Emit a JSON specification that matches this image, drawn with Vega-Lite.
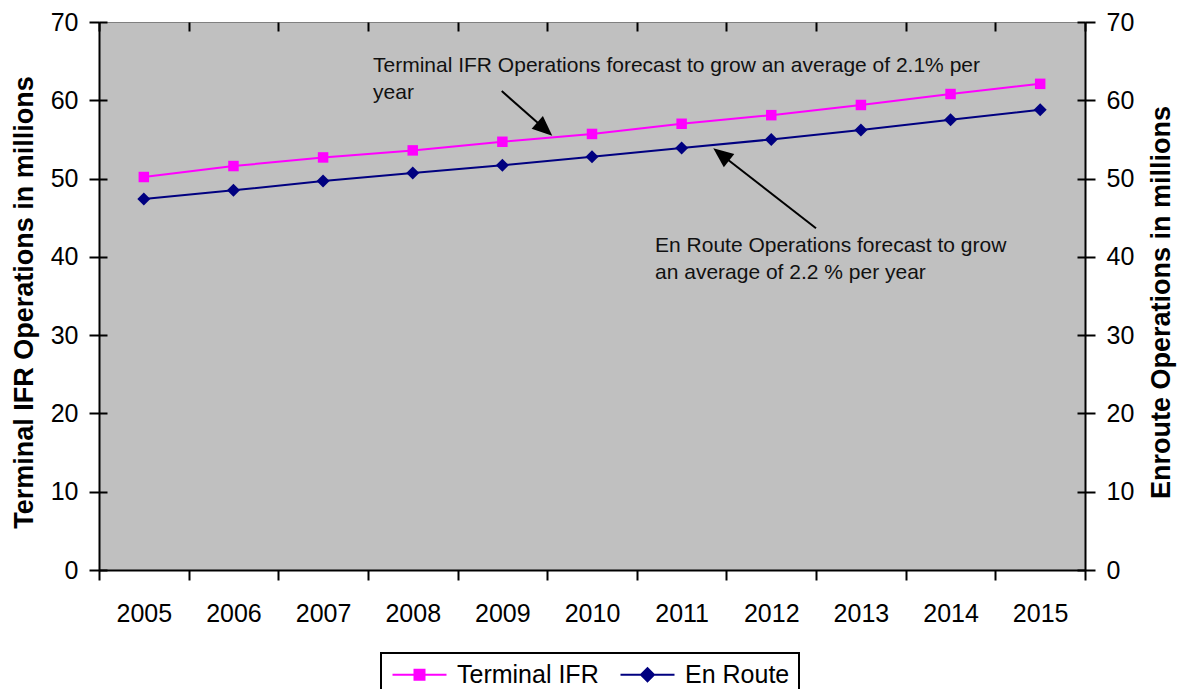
{
  "$schema": "https://vega.github.io/schema/vega-lite/v6.json",
  "width": 986,
  "height": 548,
  "autosize": {"type": "none"},
  "padding": {"left": 99, "top": 22, "right": 92, "bottom": 119},
  "background": "white",
  "view": {"fill": "#C0C0C0", "stroke": "#808080", "strokeWidth": 1},
  "config": {
    "font": "Liberation Sans",
    "view": {"fill": "#C0C0C0", "stroke": "#808080", "strokeWidth": 1},
    "axis": {
      "labelFont": "Liberation Sans",
      "labelFontSize": 25,
      "labelColor": "black",
      "titleFont": "Liberation Sans",
      "titleFontSize": 27,
      "titleFontWeight": "bold",
      "titleColor": "black",
      "domainColor": "black",
      "domainWidth": 2,
      "tickColor": "black",
      "tickWidth": 2,
      "gridColor": "black",
      "gridWidth": 2,
      "gridOpacity": 1,
      "labelFlush": false,
      "labelOverlap": false,
      "labelBound": false
    }
  },
  "datasets": {
    "ops": [
      {"year": 2005, "series": "Terminal IFR", "value": 50.2},
      {"year": 2006, "series": "Terminal IFR", "value": 51.6},
      {"year": 2007, "series": "Terminal IFR", "value": 52.7},
      {"year": 2008, "series": "Terminal IFR", "value": 53.6},
      {"year": 2009, "series": "Terminal IFR", "value": 54.7},
      {"year": 2010, "series": "Terminal IFR", "value": 55.7},
      {"year": 2011, "series": "Terminal IFR", "value": 57.0},
      {"year": 2012, "series": "Terminal IFR", "value": 58.1},
      {"year": 2013, "series": "Terminal IFR", "value": 59.4},
      {"year": 2014, "series": "Terminal IFR", "value": 60.8},
      {"year": 2015, "series": "Terminal IFR", "value": 62.1},
      {"year": 2005, "series": "En Route", "value": 47.4},
      {"year": 2006, "series": "En Route", "value": 48.5},
      {"year": 2007, "series": "En Route", "value": 49.7},
      {"year": 2008, "series": "En Route", "value": 50.7},
      {"year": 2009, "series": "En Route", "value": 51.7},
      {"year": 2010, "series": "En Route", "value": 52.8},
      {"year": 2011, "series": "En Route", "value": 53.9},
      {"year": 2012, "series": "En Route", "value": 55.0},
      {"year": 2013, "series": "En Route", "value": 56.2},
      {"year": 2014, "series": "En Route", "value": 57.5},
      {"year": 2015, "series": "En Route", "value": 58.8}
    ],
    "notes": [
      {"x": 2007.557, "y": 63.57, "text": ["Terminal IFR Operations forecast to grow an average of 2.1% per", "year"]},
      {"x": 2010.703, "y": 40.66, "text": ["En Route Operations forecast to grow", "an average of 2.2 % per year"]}
    ],
    "arrows": [
      {"id": "t", "x": 2008.993, "y": 61.18, "x2": 2009.473, "y2": 56.32},
      {"id": "e", "x": 2012.499, "y": 43.65, "x2": 2011.441, "y2": 53.08}
    ]
  },
  "resolve": {"axis": {"x": "independent", "y": "independent"}},
  "layer": [
    {
      "data": {"name": "ops"},
      "transform": [{"filter": "datum.series === 'Terminal IFR'"}],
      "mark": {"type": "line", "color": "#FF00FF", "strokeWidth": 2},
      "encoding": {
        "x": {
          "field": "year", "type": "quantitative",
          "scale": {"domain": [2004.5, 2015.5], "nice": false, "zero": false},
          "axis": {
            "orient": "bottom",
            "values": [2005, 2006, 2007, 2008, 2009, 2010, 2011, 2012, 2013, 2014, 2015],
            "format": "d",
            "ticks": false,
            "tickSize": 0,
            "labelPadding": 31,
            "domain": true,
            "grid": false,
            "title": null
          }
        },
        "y": {
          "field": "value", "type": "quantitative",
          "scale": {"domain": [0, 70], "nice": false, "zero": true},
          "axis": {
            "orient": "left",
            "values": [0, 10, 20, 30, 40, 50, 60, 70],
            "tickSize": 10,
            "labelPadding": 11,
            "grid": true,
            "gridDash": [8, 2000],
            "title": "Terminal IFR Operations in millions",
            "titlePadding": 12,
            "titleY": 280
          }
        }
      }
    },
    {
      "data": {"name": "ops"},
      "transform": [{"filter": "datum.series === 'Terminal IFR'"}],
      "mark": {"type": "point", "shape": "square", "filled": true, "color": "#FF00FF", "size": 110, "opacity": 1},
      "encoding": {
        "x": {"field": "year", "type": "quantitative", "axis": null},
        "y": {"field": "value", "type": "quantitative", "axis": null}
      }
    },
    {
      "data": {"name": "ops"},
      "transform": [{"filter": "datum.series === 'En Route'"}],
      "mark": {"type": "line", "color": "#000080", "strokeWidth": 2},
      "encoding": {
        "x": {
          "field": "year", "type": "quantitative",
          "axis": {
            "orient": "bottom",
            "values": [2004.5, 2005.5, 2006.5, 2007.5, 2008.5, 2009.5, 2010.5, 2011.5, 2012.5, 2013.5, 2014.5, 2015.5],
            "labels": false,
            "tickSize": 10,
            "domain": false,
            "grid": true,
            "gridDash": [9, 2000],
            "title": null
          }
        },
        "y": {
          "field": "value", "type": "quantitative",
          "axis": {
            "orient": "right",
            "values": [0, 10, 20, 30, 40, 50, 60, 70],
            "tickSize": 10,
            "labelPadding": 11,
            "grid": true,
            "gridDash": [8, 2000],
            "title": "Enroute Operations in millions",
            "titleAngle": 270,
            "titleBaseline": "top",
            "titlePadding": 15,
            "titleY": 280
          }
        }
      }
    },
    {
      "data": {"name": "ops"},
      "transform": [{"filter": "datum.series === 'En Route'"}],
      "mark": {"type": "point", "shape": "diamond", "filled": true, "color": "#000080", "size": 169, "opacity": 1},
      "encoding": {
        "x": {"field": "year", "type": "quantitative", "axis": null},
        "y": {"field": "value", "type": "quantitative", "axis": null}
      }
    },
    {
      "data": {"name": "notes"},
      "mark": {"type": "text", "align": "left", "baseline": "alphabetic", "fontSize": 21, "lineHeight": 27, "color": "#111111", "font": "Liberation Sans"},
      "encoding": {
        "x": {"field": "x", "type": "quantitative", "axis": null},
        "y": {"field": "y", "type": "quantitative", "axis": null},
        "text": {"field": "text"}
      }
    },
    {
      "data": {"name": "arrows"},
      "mark": {"type": "rule", "color": "black", "strokeWidth": 2},
      "encoding": {
        "x": {"field": "x", "type": "quantitative", "axis": null},
        "y": {"field": "y", "type": "quantitative", "axis": null},
        "x2": {"field": "x2"},
        "y2": {"field": "y2"}
      }
    },
    {
      "data": {"name": "arrows"},
      "transform": [{"filter": "datum.id === 't'"}],
      "mark": {"type": "point", "shape": "M0,-1L-0.85,1L0.85,1Z", "filled": true, "color": "black", "size": 400, "angle": 131.5, "opacity": 1},
      "encoding": {
        "x": {"field": "x2", "type": "quantitative", "axis": null},
        "y": {"field": "y2", "type": "quantitative", "axis": null}
      }
    },
    {
      "data": {"name": "arrows"},
      "transform": [{"filter": "datum.id === 'e'"}],
      "mark": {"type": "point", "shape": "M0,-1L-0.85,1L0.85,1Z", "filled": true, "color": "black", "size": 400, "angle": 307.9, "opacity": 1},
      "encoding": {
        "x": {"field": "x2", "type": "quantitative", "axis": null},
        "y": {"field": "y2", "type": "quantitative", "axis": null}
      }
    },
    {
      "data": {"name": "ops"},
      "transform": [{"filter": "datum.value < 0"}],
      "mark": {"type": "point", "filled": true, "strokeWidth": 2, "opacity": 1},
      "encoding": {
        "color": {
          "field": "series", "type": "nominal",
          "scale": {"domain": ["Terminal IFR", "En Route"], "range": ["#FF00FF", "#000080"]},
          "legend": {
            "title": null,
            "orient": "none",
            "legendX": 282,
            "legendY": 631,
            "direction": "horizontal",
            "padding": 9,
            "strokeColor": "black",
            "fillColor": "white",
            "symbolSize": 400,
            "symbolStrokeWidth": 2,
            "symbolOpacity": 1,
            "labelFont": "Liberation Sans",
            "labelFontSize": 25,
            "labelColor": "black",
            "labelOffset": 42,
            "columnPadding": 17,
            "encode": {"legend": {"update": {"strokeWidth": {"value": 2}}}}
          }
        },
        "stroke": {
          "field": "series", "type": "nominal",
          "scale": {"domain": ["Terminal IFR", "En Route"], "range": ["#FF00FF", "#000080"]}
        },
        "shape": {
          "field": "series", "type": "nominal",
          "scale": {"domain": ["Terminal IFR", "En Route"], "range": ["M-1,0H4.4M1.2,-0.5H2.2V0.5H1.2Z", "M-1,0H4.4M1.05,0L1.7,-0.65L2.35,0L1.7,0.65Z"]}
        }
      }
    }
  ]
}
